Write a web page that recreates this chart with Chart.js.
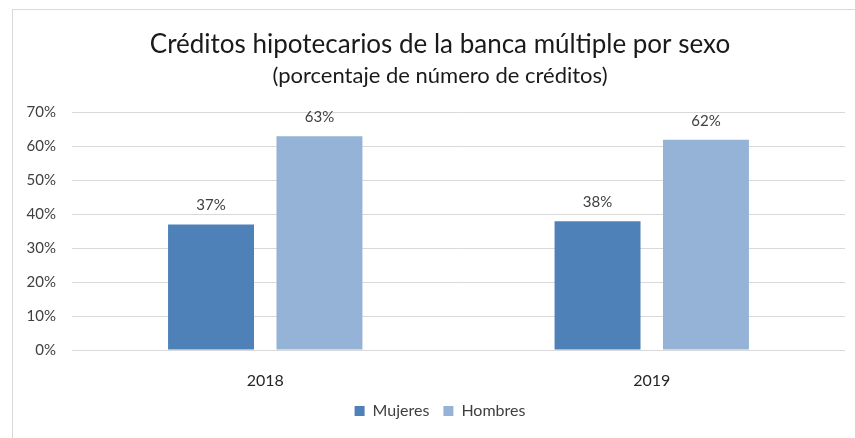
<!DOCTYPE html>
<html>
<head>
<meta charset="utf-8">
<script src="https://cdn.jsdelivr.net/npm/chart.js@4.4.1/dist/chart.umd.min.js"></script>
<style>
  html, body { margin: 0; padding: 0; background: #ffffff; }
  #wrap { position: relative; width: 855px; height: 438px; overflow: hidden; }
  #frame { position: absolute; left: 12px; top: 9px; width: 860px; height: 440px;
           border-left: 1px solid #d9d9d9; border-top: 1px solid #d9d9d9; box-sizing: border-box; }
  #c { position: absolute; left: 0; top: 0; }
</style>
</head>
<body>
<div id="wrap">
  <div id="frame"></div>
  <canvas id="c" width="855" height="438"></canvas>
</div>
<script>
// Años y porcentajes por sexo
const categories = ['2018', '2019'];
const mujeres = [37, 38];
const hombres = [63, 62];
const yTicks = [0, 10, 20, 30, 40, 50, 60, 70];

const FONT = 'Lato, "Open Sans", sans-serif';

// Etiquetas de valor sobre cada barra
const valueLabels = {
  id: 'valueLabels',
  afterDatasetsDraw(chart) {
    const ctx = chart.ctx;
    ctx.save();
    ctx.font = '15px ' + FONT;
    ctx.fillStyle = '#404040';
    ctx.textAlign = 'center';
    ctx.textBaseline = 'middle';
    chart.data.datasets.forEach((ds, i) => {
      const meta = chart.getDatasetMeta(i);
      meta.data.forEach((bar, j) => {
        ctx.fillText(ds.data[j] + '%', bar.x, bar.y - 19);
      });
    });
    ctx.restore();
  }
};

// Títulos y leyenda centrados sobre el marco (no sobre todo el lienzo)
const centerBlocks = {
  id: 'centerBlocks',
  afterLayout(chart) {
    chart.boxes.forEach(b => {
      if (b.fullSize && (b.position === 'top' || b.position === 'bottom')) {
        b.left += 23;
      }
    });
  }
};

new Chart(document.getElementById('c'), {
  type: 'bar',
  data: {
    labels: categories,
    datasets: [
      { label: 'Mujeres', data: mujeres, backgroundColor: '#4f81b9', categoryPercentage: 0.561, barPercentage: 0.793 },
      { label: 'Hombres', data: hombres, backgroundColor: '#95b3d7', categoryPercentage: 0.561, barPercentage: 0.793 }
    ]
  },
  options: {
    responsive: false,
    animation: false,
    events: [],
    layout: { padding: { left: 12, right: 10, top: 0, bottom: 9 } },
    scales: {
      x: {
        afterFit(scale) { scale.height = 39; },
        grid: { display: false, drawTicks: false },
        border: { display: false },
        ticks: { color: '#262626', font: { family: FONT, size: 16 }, padding: 21 }
      },
      y: {
        min: 0, max: 70,
        afterFit(scale) { scale.width = 60; },
        afterBuildTicks(scale) { scale.ticks = yTicks.map(v => ({ value: v })); },
        grid: { color: '#d9d9d9', lineWidth: 1, drawTicks: false },
        border: { display: false },
        ticks: { color: '#404040', font: { family: FONT, size: 15 }, padding: 16, callback: v => v + '%' }
      }
    },
    plugins: {
      tooltip: { enabled: false },
      title: {
        display: true,
        text: 'Créditos hipotecarios de la banca múltiple por sexo',
        color: '#1a1a1a',
        font: { family: FONT, size: 26, weight: 'normal' },
        padding: { top: 29, bottom: 0 }
      },
      subtitle: {
        display: true,
        text: '(porcentaje de número de créditos)',
        color: '#1a1a1a',
        font: { family: FONT, size: 22, weight: 'normal' },
        padding: { top: 3, bottom: 23 }
      },
      legend: {
        position: 'bottom',
        labels: { color: '#404040', font: { family: FONT, size: 16 }, boxWidth: 10, boxHeight: 10, padding: 14 }
      }
    }
  },
  plugins: [valueLabels, centerBlocks]
});
</script>
</body>
</html>
